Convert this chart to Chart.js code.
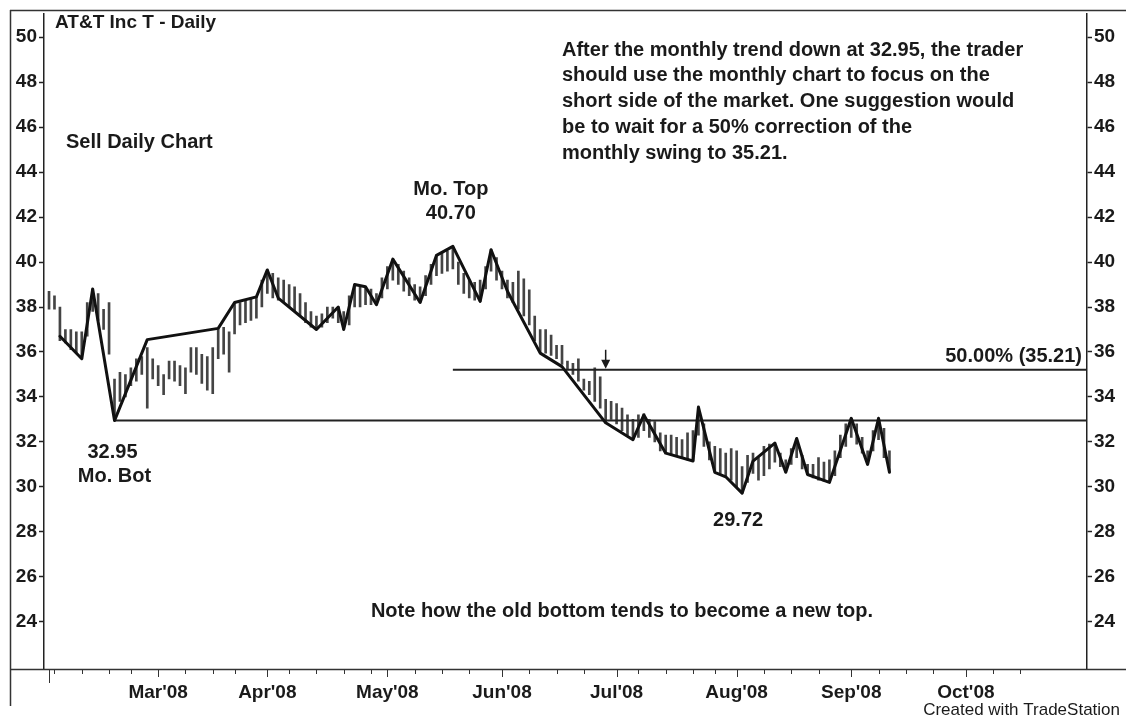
<!DOCTYPE html>
<html>
<head>
<meta charset="utf-8">
<title>AT&amp;T Inc T - Daily</title>
<script src="https://cdn.jsdelivr.net/npm/chart.js@4.4.1/dist/chart.umd.min.js"></script>
<style>
  body { margin: 0; background: #fff; }
  canvas { display: block; }
</style>
</head>
<body>
<canvas id="chart" width="1126" height="719"></canvas>
<script>
// trading day index 0 = first bar (early Feb 2008)
const monthLabels = ["Mar'08", "Apr'08", "May'08", "Jun'08", "Jul'08", "Aug'08", "Sep'08", "Oct'08"];
const monthStarts = [20, 40, 62, 83, 104, 126, 147, 168];
const weekTicks = [1, 6, 11, 15, 25, 30, 34, 44, 49, 54, 59, 67, 72, 77, 88, 93, 98, 108, 113, 118, 122, 131, 136, 141, 152, 157, 162, 173, 178];
const yTicks = [24, 26, 28, 30, 32, 34, 36, 38, 40, 42, 44, 46, 48, 50];

const barHighs = [
  38.7, 38.5, 38.0, 37.0, 37.0, 36.9, 36.9, 38.2, 38.8, 38.6,
  37.9, 38.2, 34.8, 35.1, 35.0, 35.3, 35.7, 35.8, 36.2, 35.7,
  35.4, 35.0, 35.6, 35.6, 35.4, 35.3, 36.2, 36.2, 35.9, 35.8,
  36.2, 37.0, 37.1, 36.9, 38.2, 38.2, 38.3, 38.4, 38.45, 39.2,
  39.65, 39.5, 39.3, 39.2, 39.0, 38.9, 38.6, 38.2, 37.8, 37.6,
  37.7, 38.0, 38.0, 38.0, 37.8, 38.5, 39.0, 38.9, 38.9, 38.8,
  38.6, 39.3, 39.8, 40.13, 39.9, 39.6, 39.3, 39.0, 38.9, 39.4,
  39.9, 40.3, 40.4, 40.5, 40.7, 40.0, 39.5, 39.2, 39.1, 39.2,
  39.8, 40.55, 40.2, 39.6, 39.2, 39.1, 39.6, 39.25, 38.76, 37.6,
  37.0, 37.0, 36.75, 36.3, 36.3, 35.6, 35.5, 35.7, 34.8, 34.7,
  35.3, 34.9, 33.9, 33.8, 33.7, 33.5, 33.2, 33.0, 33.2, 33.25,
  33.0, 32.9, 32.4, 32.3, 32.3, 32.2, 32.1, 32.4, 32.5, 33.55,
  32.8, 32.0, 31.8, 31.7, 31.5, 31.7, 31.6, 30.9, 31.4, 31.5,
  31.3, 31.8, 31.9, 31.95, 31.5, 31.2, 31.7, 32.15, 31.4, 31.0,
  31.0, 31.3, 31.1, 31.2, 31.6, 32.3, 32.8, 33.05, 32.8, 32.2,
  31.6, 32.5, 33.05, 32.6, 31.6
];
const barLows = [
  37.9, 37.9, 36.5, 36.4, 36.1, 35.95, 35.7, 36.7, 37.8, 37.4,
  37.0, 35.9, 32.95, 33.8, 34.0, 34.5, 34.7, 35.0, 33.5, 34.8,
  34.5, 34.1, 34.8, 34.7, 34.5, 34.15, 35.1, 35.0, 34.6, 34.3,
  34.15, 35.7, 35.9, 35.1, 36.8, 37.2, 37.3, 37.4, 37.5, 38.0,
  38.6, 38.4, 38.3, 38.2, 38.0, 37.8, 37.6, 37.3, 37.1, 37.0,
  37.1, 37.3, 37.5, 37.3, 37.0, 37.2, 38.0, 38.0, 38.1, 38.1,
  38.1, 38.4, 38.8, 39.2, 39.0, 38.7, 38.5, 38.3, 38.2, 38.5,
  39.0, 39.4, 39.5, 39.6, 39.7, 39.0, 38.6, 38.4, 38.3, 38.25,
  38.8, 39.6, 39.2, 38.8, 38.4, 38.2, 37.9, 37.6, 37.2, 36.5,
  36.0, 35.95, 35.85, 35.7, 35.45, 35.2, 35.0, 34.7, 34.3, 34.1,
  33.8, 33.5, 32.85, 33.0, 32.8, 32.5, 32.3, 32.1, 32.2, 32.5,
  32.2, 32.0, 31.6, 31.5, 31.4, 31.35, 31.3, 31.2, 31.15, 32.3,
  31.8, 31.2, 30.7, 30.6, 30.45, 30.3, 30.0, 29.72, 30.2, 30.6,
  30.3, 30.5, 30.8, 31.1, 30.9, 30.65, 31.0, 31.3, 30.8, 30.55,
  30.4, 30.3, 30.25, 30.2, 30.5, 31.3, 31.8, 32.2, 31.9, 31.5,
  31.0, 31.6, 32.1, 31.3, 30.65
];

const swingDays = [2, 6, 8, 12, 18, 31, 34, 38, 40, 42, 49, 53, 54, 56, 58, 60, 63, 68, 71, 74,
  79, 81, 84, 90, 94, 102, 107, 109, 113, 118, 119, 122, 124, 127, 129, 133, 135, 137, 139, 143,
  147, 150, 152, 154];
const swingPrices = [36.7, 35.7, 38.8, 32.95, 36.55, 37.05, 38.2, 38.45, 39.65, 38.4, 37.0, 38.0, 37.0, 39.0, 38.9, 38.1, 40.13, 38.2, 40.3, 40.7,
  38.25, 40.55, 38.7, 35.95, 35.35, 32.85, 32.1, 33.2, 31.5, 31.15, 33.55, 30.65, 30.45, 29.72, 31.15, 31.95, 30.65, 32.15, 30.55, 30.2,
  33.05, 31.0, 33.05, 30.65];

const moBot = 32.95, moBotDay = 12;
const moTop = 40.70, moTopDay = 74;
const augLow = 29.72, augLowDay = 127;
const retrace = 35.21, retraceDay = 74, arrowDay = 102;
const xMin = -0.92, xMax = 190.2;

const FONT = '"Liberation Sans", Arial, Helvetica, sans-serif';
const INK = '#1a1a1a';

const bars = barHighs.map((h, i) => ({ x: i, y: [barLows[i], h] }));
const swing = swingDays.map((d, i) => ({ x: d, y: swingPrices[i] }));

const notesPlugin = {
  id: 'notes',
  afterDraw(chart) {
    const ctx = chart.ctx;
    const xs = chart.scales.x, ys = chart.scales.y;
    const area = chart.chartArea;
    ctx.save();

    // frame
    ctx.strokeStyle = '#333';
    ctx.lineWidth = 1.5;
    ctx.beginPath();
    ctx.moveTo(10, 10.5); ctx.lineTo(1126, 10.5);
    ctx.moveTo(10.5, 10); ctx.lineTo(10.5, 706);
    ctx.moveTo(10, area.bottom + 0.5); ctx.lineTo(1126, area.bottom + 0.5);
    ctx.stroke();

    // x ticks
    ctx.lineWidth = 1;
    ctx.beginPath();
    weekTicks.forEach(d => {
      const x = Math.round(xs.getPixelForValue(d)) + 0.5;
      ctx.moveTo(x, area.bottom); ctx.lineTo(x, area.bottom + 5);
    });
    monthStarts.forEach(d => {
      const x = Math.round(xs.getPixelForValue(d)) + 0.5;
      ctx.moveTo(x, area.bottom); ctx.lineTo(x, area.bottom + 8);
    });
    const x0 = Math.round(xs.getPixelForValue(0)) + 0.5;
    ctx.moveTo(x0, area.bottom); ctx.lineTo(x0, area.bottom + 14);
    ctx.stroke();

    // arrow onto the 50% line
    const ax = xs.getPixelForValue(arrowDay);
    const ay = ys.getPixelForValue(retrace);
    ctx.strokeStyle = INK;
    ctx.fillStyle = INK;
    ctx.lineWidth = 1.5;
    ctx.beginPath();
    ctx.moveTo(ax, ay - 20); ctx.lineTo(ax, ay - 4);
    ctx.stroke();
    ctx.beginPath();
    ctx.moveTo(ax - 4.5, ay - 10); ctx.lineTo(ax + 4.5, ay - 10); ctx.lineTo(ax, ay - 1);
    ctx.closePath();
    ctx.fill();

    // texts
    ctx.fillStyle = INK;
    ctx.textBaseline = 'middle';
    ctx.font = 'bold 19px ' + FONT;
    ctx.textAlign = 'left';
    ctx.fillText('AT&T Inc T - Daily', 55, 23);
    ctx.font = 'bold 20px ' + FONT;
    ctx.fillText('Sell Daily Chart', 66, 142);

    const para = [
      'After the monthly trend down at 32.95, the trader',
      'should use the monthly chart to focus on the',
      'short side of the market. One suggestion would',
      'be to wait for a 50% correction of the',
      'monthly swing to 35.21.'
    ];
    para.forEach((t, i) => ctx.fillText(t, 562, 50 + i * 25.8));

    ctx.textAlign = 'center';
    const tx = xs.getPixelForValue(moTopDay), ty = ys.getPixelForValue(moTop);
    ctx.fillText('Mo. Top', tx - 2, ty - 57);
    ctx.fillText(moTop.toFixed(2), tx - 2, ty - 33);

    const bx = xs.getPixelForValue(moBotDay), by = ys.getPixelForValue(moBot);
    ctx.fillText(moBot.toFixed(2), bx - 2, by + 32);
    ctx.fillText('Mo. Bot', bx, by + 56);

    const lx = xs.getPixelForValue(augLowDay), ly = ys.getPixelForValue(augLow);
    ctx.fillText(augLow.toFixed(2), lx - 4, ly + 27);

    ctx.fillText('Note how the old bottom tends to become a new top.', 622, 611);

    ctx.textAlign = 'right';
    ctx.fillText('50.00% (' + retrace.toFixed(2) + ')', 1082, ay - 13);

    ctx.font = '17px ' + FONT;
    ctx.fillText('Created with TradeStation', 1120, 710);
    ctx.restore();
  }
};

const yAxis = (position, width) => ({
  type: 'linear',
  position: position,
  min: 21.9,
  max: 51.06,
  afterBuildTicks: scale => { scale.ticks = yTicks.map(v => ({ value: v })); },
  afterFit: scale => { scale.width = width; },
  grid: { drawOnChartArea: false, color: '#222', tickLength: 5, tickWidth: 1.5 },
  border: { display: true, color: '#222', width: 1.5 },
  ticks: { color: INK, padding: 2, font: { family: FONT, size: 19, weight: 'bold' } }
});

new Chart(document.getElementById('chart'), {
  type: 'bar',
  data: {
    datasets: [
      {
        type: 'line',
        data: swing,
        borderColor: '#111',
        borderWidth: 3,
        borderJoinStyle: 'round',
        borderCapStyle: 'round',
        pointRadius: 0,
        tension: 0,
        order: 1
      },
      {
        type: 'line',
        data: [{ x: moBotDay, y: moBot }, { x: xMax, y: moBot }],
        borderColor: '#222',
        borderWidth: 2,
        pointRadius: 0,
        order: 2
      },
      {
        type: 'line',
        data: [{ x: retraceDay, y: retrace }, { x: xMax, y: retrace }],
        borderColor: '#222',
        borderWidth: 2,
        pointRadius: 0,
        order: 2
      },
      {
        type: 'bar',
        data: bars,
        backgroundColor: '#444',
        barThickness: 2,
        order: 3
      }
    ]
  },
  options: {
    responsive: false,
    animation: false,
    layout: { padding: { left: 10, top: 10, right: 0, bottom: 0 } },
    plugins: { legend: { display: false }, tooltip: { enabled: false } },
    scales: {
      x: {
        type: 'linear',
        min: xMin,
        max: xMax,
        offset: false,
        afterBuildTicks: scale => { scale.ticks = monthStarts.map(v => ({ value: v })); },
        afterFit: scale => { scale.height = 50; },
        grid: { display: false, offset: false },
        border: { display: false },
        ticks: {
          autoSkip: false,
          maxRotation: 0,
          padding: 4,
          color: INK,
          font: { family: FONT, size: 19, weight: 'bold' },
          callback: (v, i) => monthLabels[i]
        }
      },
      y: yAxis('left', 34),
      y2: yAxis('right', 39)
    }
  },
  plugins: [notesPlugin]
});
</script>
</body>
</html>
